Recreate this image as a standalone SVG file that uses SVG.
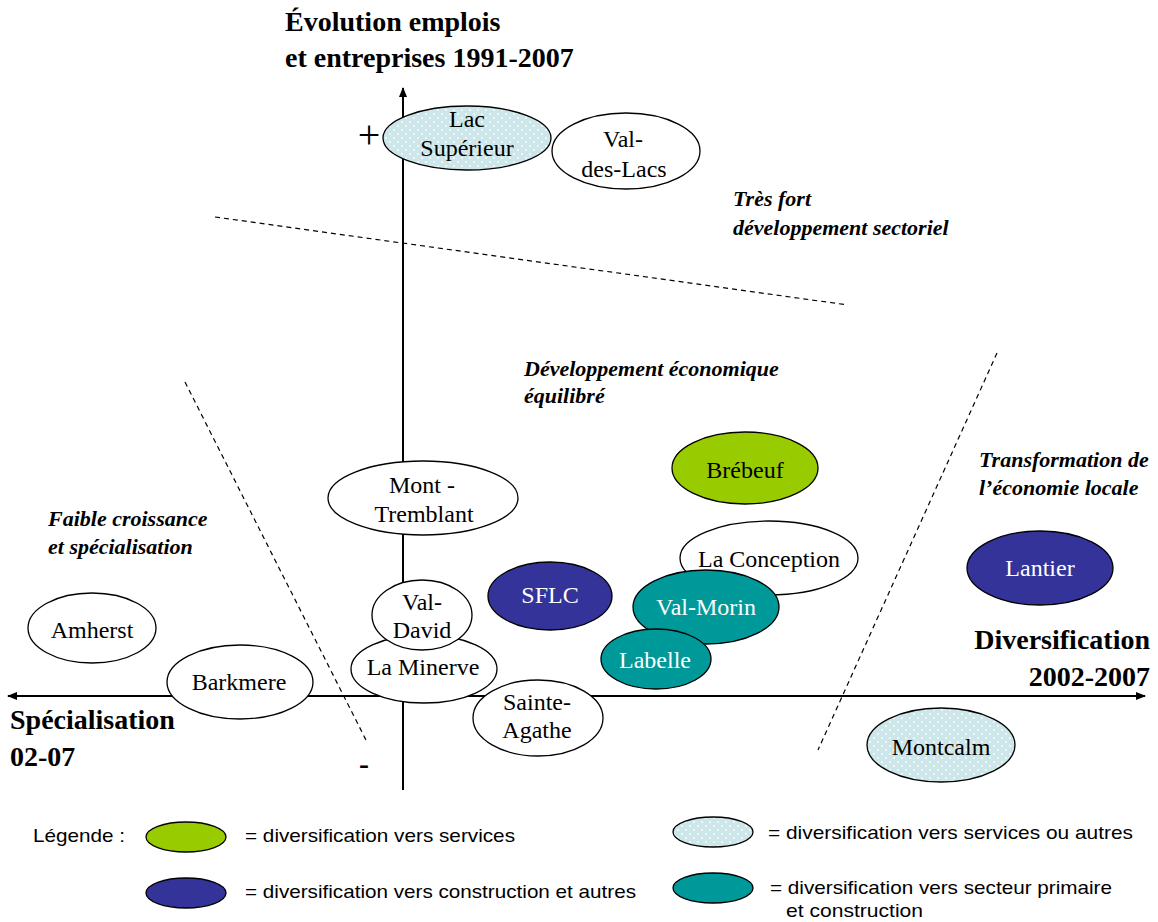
<svg xmlns="http://www.w3.org/2000/svg" width="1158" height="922" viewBox="0 0 1158 922">
<style>
.n{stroke:#000;stroke-width:1.3}
.w{fill:#fff}
.g{fill:#99cc00}
.b{fill:#333399}
.t{fill:#009999}
.p{fill:url(#dots)}
.lbl{font-family:"Liberation Serif","Times New Roman",serif;font-size:24px;text-anchor:middle;fill:#000}
.wl{fill:#fff}
.h{font-family:"Liberation Serif","Times New Roman",serif;font-size:28px;font-weight:bold;fill:#000}
.it{font-family:"Liberation Serif","Times New Roman",serif;font-size:22px;font-weight:bold;font-style:italic;fill:#000}
.lg{font-family:"Liberation Sans",Arial,sans-serif;font-size:19px;fill:#000}
.ax{stroke:#000;stroke-width:2;fill:none}
.ds{stroke:#000;stroke-width:1.2;stroke-dasharray:5,4;fill:none}
</style>
<defs>
<pattern id="dots" width="8" height="8" patternUnits="userSpaceOnUse">
<rect width="8" height="8" fill="#cde6e9"/>
<circle cx="2" cy="2" r="0.9" fill="#fff"/>
<circle cx="6" cy="6" r="0.9" fill="#fff"/>
</pattern>
<marker id="ah" viewBox="0 0 10 10" refX="9" refY="5" markerWidth="10" markerHeight="10" markerUnits="userSpaceOnUse" orient="auto-start-reverse">
<path d="M0,1 L10,5 L0,9 z" fill="#000"/>
</marker>
</defs>
<rect width="1158" height="922" fill="#fff"/>

<g id="titles">
<text class="h" x="285" y="31">Évolution emplois</text>
<text class="h" x="285" y="67">et entreprises 1991-2007</text>
<text class="h" x="1150" y="649" text-anchor="end">Diversification</text>
<text class="h" x="1150" y="686" text-anchor="end">2002-2007</text>
<text class="h" x="10" y="729">Spécialisation</text>
<text class="h" x="10" y="766">02-07</text>
<text x="369" y="148" font-family="Liberation Serif,serif" font-size="40" text-anchor="middle">+</text>
<text x="364" y="774" font-family="Liberation Serif,serif" font-size="30" font-weight="bold" text-anchor="middle">-</text>
<text class="it" x="733" y="206">Très fort</text>
<text class="it" x="733" y="235">développement sectoriel</text>
<text class="it" x="524" y="376">Développement économique</text>
<text class="it" x="524" y="403">équilibré</text>
<text class="it" x="979" y="467">Transformation de</text>
<text class="it" x="979" y="495">l’économie locale</text>
<text class="it" x="48" y="526">Faible croissance</text>
<text class="it" x="48" y="554">et spécialisation</text>
</g>

<g id="connectors">
<line class="ax" x1="403" y1="790" x2="403" y2="88" marker-end="url(#ah)"/>
<line class="ax" x1="8" y1="696" x2="1145" y2="696" marker-start="url(#ah)" marker-end="url(#ah)"/>
<line class="ds" x1="215" y1="217" x2="848" y2="305"/>
<line class="ds" x1="185" y1="382" x2="367" y2="742"/>
<line class="ds" x1="997" y1="353" x2="818" y2="750"/>
</g>

<g id="lac-superieur"><ellipse class="n p" cx="467" cy="138" rx="84" ry="32"/><text class="lbl" x="467" y="127">Lac</text><text class="lbl" x="467" y="156">Supérieur</text></g>
<g id="val-des-lacs"><ellipse class="n w" cx="626" cy="151" rx="74" ry="38"/><text class="lbl" x="623" y="147">Val-</text><text class="lbl" x="624" y="177">des-Lacs</text></g>
<g id="mont-tremblant"><ellipse class="n w" cx="423" cy="498" rx="95" ry="37"/><text class="lbl" x="422" y="493">Mont -</text><text class="lbl" x="424" y="522">Tremblant</text></g>
<g id="la-minerve"><ellipse class="n w" cx="424" cy="669" rx="73" ry="34"/><text class="lbl" x="423" y="675">La Minerve</text></g>
<g id="val-david"><ellipse class="n w" cx="422" cy="615" rx="50" ry="35"/><text class="lbl" x="422" y="610">Val-</text><text class="lbl" x="422" y="638">David</text></g>
<g id="sainte-agathe"><ellipse class="n w" cx="538" cy="718" rx="65" ry="38"/><text class="lbl" x="537" y="710">Sainte-</text><text class="lbl" x="537" y="738">Agathe</text></g>
<g id="sflc"><ellipse class="n b" cx="550" cy="596" rx="62" ry="34"/><text class="lbl wl" x="550" y="603">SFLC</text></g>
<g id="brebeuf"><ellipse class="n g" cx="745" cy="468" rx="73" ry="36"/><text class="lbl" x="745" y="478">Brébeuf</text></g>
<g id="la-conception"><ellipse class="n w" cx="769" cy="558" rx="89" ry="37"/><text class="lbl" x="769" y="567">La Conception</text></g>
<g id="val-morin"><ellipse class="n t" cx="706" cy="607" rx="73" ry="37"/><text class="lbl wl" x="706" y="615">Val-Morin</text></g>
<g id="labelle"><ellipse class="n t" cx="656" cy="659" rx="55" ry="30"/><text class="lbl wl" x="655" y="668">Labelle</text></g>
<g id="lantier"><ellipse class="n b" cx="1040" cy="568" rx="73" ry="37"/><text class="lbl wl" x="1040" y="576">Lantier</text></g>
<g id="montcalm"><ellipse class="n p" cx="941" cy="745" rx="74" ry="37"/><text class="lbl" x="941" y="755">Montcalm</text></g>
<g id="amherst"><ellipse class="n w" cx="92" cy="628" rx="64" ry="35"/><text class="lbl" x="92" y="638">Amherst</text></g>
<g id="barkmere"><ellipse class="n w" cx="240" cy="682" rx="73" ry="37"/><text class="lbl" x="239" y="690">Barkmere</text></g>

<g id="legend">
<text class="lg" x="33" y="842" textLength="92" lengthAdjust="spacingAndGlyphs">Légende :</text>
<ellipse class="n g" cx="186" cy="837" rx="40" ry="15"/>
<text class="lg" x="245" y="842" textLength="270" lengthAdjust="spacingAndGlyphs">= diversification vers services</text>
<ellipse class="n b" cx="186" cy="893" rx="40" ry="15"/>
<text class="lg" x="245" y="898" textLength="391" lengthAdjust="spacingAndGlyphs">= diversification vers construction et autres</text>
<ellipse class="n p" cx="713" cy="832" rx="40" ry="15"/>
<text class="lg" x="768" y="839" textLength="365" lengthAdjust="spacingAndGlyphs">= diversification vers services ou autres</text>
<ellipse class="n t" cx="713" cy="888" rx="40" ry="15"/>
<text class="lg" x="770" y="894" textLength="342" lengthAdjust="spacingAndGlyphs">= diversification vers secteur primaire</text>
<text class="lg" x="786" y="917" textLength="137" lengthAdjust="spacingAndGlyphs">et construction</text>
</g>
</svg>
